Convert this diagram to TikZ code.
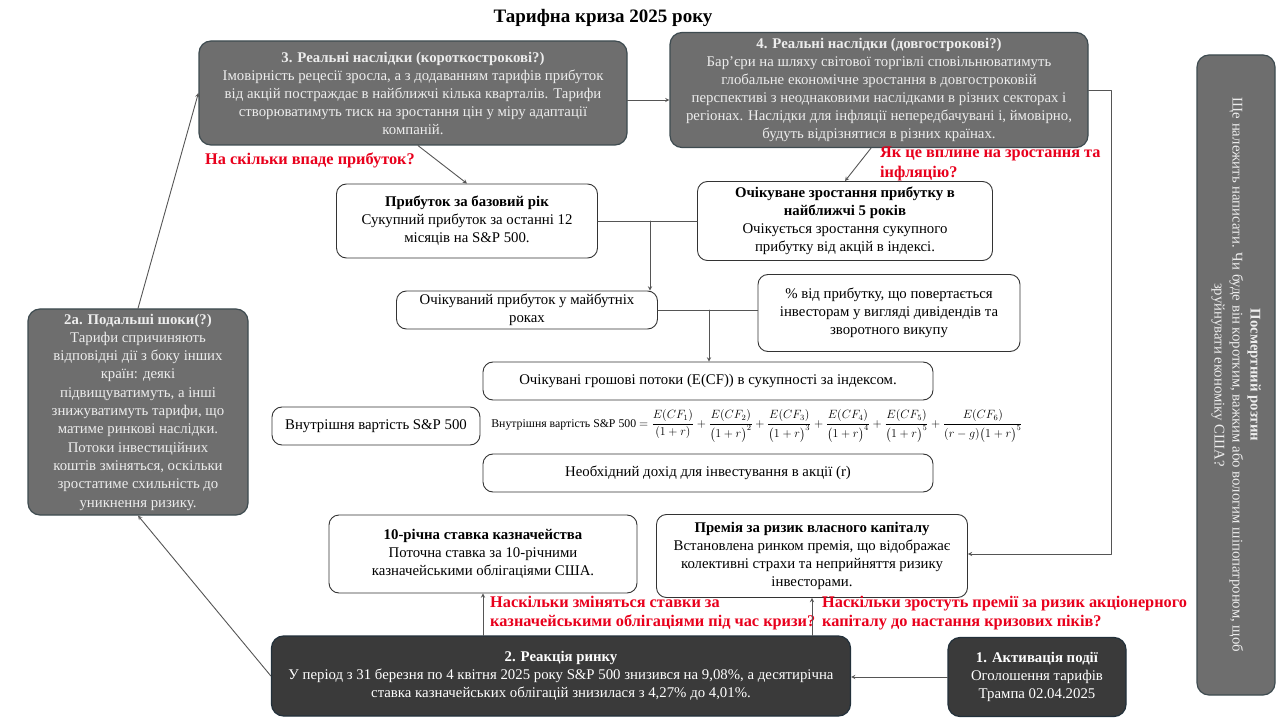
\documentclass[tikz,border=0pt]{standalone}
\usepackage{amsmath}
\usepackage{fontspec}
\setmainfont{Liberation Serif}
\definecolor{boxgrey}{HTML}{6E6E6E}
\definecolor{boxedge}{HTML}{3E4B50}
\definecolor{darkfill}{HTML}{3A3A3A}
\definecolor{darkedge}{HTML}{22303A}
\definecolor{qred}{HTML}{E8001C}
\definecolor{linegrey}{HTML}{555555}
\definecolor{greytext}{HTML}{EDEDED}
\begin{document}
\begin{tikzpicture}[x=1pt,y=-1pt,>=stealth, line join=round, line cap=round,
  font=\fontsize{14.8}{18}\selectfont,
  greybox/.style={draw=boxedge, line width=1.2pt, fill=boxgrey, text=greytext, rounded corners=12pt, align=center, inner sep=0pt},
  darkbox/.style={draw=darkedge, line width=1.2pt, fill=darkfill, text=white, rounded corners=12pt, align=center, inner sep=0pt},
  whitebox/.style={draw=black!80, line width=0.9pt, fill=white, rounded corners=10pt, align=center, inner sep=0pt},
  qlabel/.style={text=qred, font=\fontsize{16.3}{19.5}\selectfont\bfseries, align=left, inner sep=0pt},
  arr/.style={->, draw=linegrey, line width=0.9pt},
  link/.style={draw=linegrey, line width=0.9pt}]
\useasboundingbox (0,0) rectangle (1288,719);
\node[font=\fontsize{19}{21}\selectfont\bfseries] (title) at (603,18) {Тарифна криза 2025 року};
\node[greybox, minimum width=428pt, minimum height=104pt] (b3) at (413,93)
  {\textbf{3. Реальні наслідки (короткострокові?)}\\Імовірність рецесії зросла, а з додаванням тарифів прибуток\\від акцій постраждає в найближчі кілька кварталів. Тарифи\\створюватимуть тиск на зростання цін у міру адаптації\\компаній.};
\node[greybox, minimum width=418pt, minimum height=115pt] (b4) at (879,90)
  {\textbf{4. Реальні наслідки (довгострокові?)}\\Бар'єри на шляху світової торгівлі сповільнюватимуть\\глобальне економічне зростання в довгостроковій\\перспективі з неоднаковими наслідками в різних секторах і\\регіонах. Наслідки для інфляції непередбачувані і, ймовірно,\\будуть відрізнятися в різних країнах.};
\node[greybox, minimum width=220pt, minimum height=206pt, font=\fontsize{14.8}{18.3}\selectfont] (b2a) at (138,412)
  {\textbf{2а. Подальші шоки(?)}\\Тарифи спричиняють\\відповідні дії з боку інших\\країн: деякі\\підвищуватимуть, а інші\\знижуватимуть тарифи, що\\матиме ринкові наслідки.\\Потоки інвестиційних\\коштів зміняться, оскільки\\зростатиме схильність до\\уникнення ризику.};
\node[greybox, rotate=-90, minimum width=640pt, minimum height=78pt] (pm) at (1236,375)
  {\textbf{Посмертний розтин}\\Ще належить написати. Чи буде він коротким, важким або вологим шіпопатроном, щоб\\зруйнувати економіку США?};
\node[whitebox, minimum width=261pt, minimum height=74pt] (base) at (467,221)
  {\textbf{Прибуток за базовий рік}\\Сукупний прибуток за останні 12\\місяців на S\&P 500.};
\node[whitebox, minimum width=295pt, minimum height=79pt] (growth) at (845,221)
  {\textbf{Очікуване зростання прибутку в}\\\textbf{найближчі 5 років}\\Очікується зростання сукупного\\прибутку від акцій в індексі.};
\node[whitebox, minimum width=261pt, minimum height=38pt] (fut) at (527,310)
  {Очікуваний прибуток у майбутніх\\роках};
\node[whitebox, minimum width=262pt, minimum height=77pt] (payout) at (889,313)
  {\% від прибутку, що повертається\\інвесторам у вигляді дивідендів та\\зворотного викупу};
\node[whitebox, minimum width=450pt, minimum height=38pt] (ecf) at (708,381)
  {Очікувані грошові потоки (E(CF)) в сукупності за індексом.};
\node[whitebox, minimum width=208pt, minimum height=38pt] (iv) at (376,426)
  {Внутрішня вартість S\&P 500};
\node[font=\fontsize{11.8}{13}\selectfont, inner sep=0pt] (formula) at (757,426)
  {Внутрішня вартість S\&P 500 $=\dfrac{E(CF_1)}{(1+r)}+\dfrac{E(CF_2)}{\bigl(1+r\bigr)^2}+\dfrac{E(CF_3)}{\bigl(1+r\bigr)^3}+\dfrac{E(CF_4)}{\bigl(1+r\bigr)^4}+\dfrac{E(CF_5)}{\bigl(1+r\bigr)^5}+\dfrac{E(CF_6)}{(r-g)\bigl(1+r\bigr)^5}$};
\node[whitebox, minimum width=450pt, minimum height=38pt] (req) at (708,473)
  {Необхідний дохід для інвестування в акції (r)};
\node[whitebox, minimum width=308pt, minimum height=78pt] (tsy) at (483,554)
  {\textbf{10-річна ставка казначейства}\\Поточна ставка за 10-річними\\казначейськими облігаціями США.};
\node[whitebox, minimum width=311pt, minimum height=83pt] (erp) at (812,556)
  {\textbf{Премія за ризик власного капіталу}\\Встановлена ринком премія, що відображає\\колективні страхи та неприйняття ризику\\інвесторами.};
\node[darkbox, minimum width=579pt, minimum height=80pt] (b2) at (561,676)
  {\textbf{2. Реакція ринку}\\У період з 31 березня по 4 квітня 2025 року S\&P 500 знизився на 9,08\%, а десятирічна\\ставка казначейських облігацій знизилася з 4,27\% до 4,01\%.};
\node[darkbox, minimum width=178pt, minimum height=79pt] (b1) at (1037,677)
  {\textbf{1. Активація події}\\Оголошення тарифів\\Трампа 02.04.2025};
\node[qlabel, anchor=west] (q1) at (205,160) {На скільки впаде прибуток?};
\node[qlabel, anchor=north west] (q2) at (880,147) {Як це вплине на зростання та\\інфляцію?};
\node[qlabel, anchor=west] (q3) at (490,613) {Наскільки зміняться ставки за\\казначейськими облігаціями під час кризи?};
\node[qlabel, anchor=west] (q4) at (822,613) {Наскільки зростуть премії за ризик акціонерного\\капіталу до настання кризових піків?};
\path
  (650,221) coordinate (j1)
  (709,310) coordinate (j2)
  (1111,554) coordinate (rt)
  ;
\draw[arr] (b3.east |- 0,100) -- (b4.west |- 0,100);
\draw[arr] ([xshift=5pt]b3.south) -- (base.north);
\draw[arr] ([xshift=-8pt]b4.south) -- (growth.north);
\draw[arr] (b4.east) -| (rt) -- (rt -| erp.east);
\draw[link] (base.east) -- (base.east -| growth.west);
\draw[arr] (j1) -- (j1 |- fut.north);
\draw[link] (fut.east) -- (fut.east -| payout.west);
\draw[arr] (j2) -- (j2 |- ecf.north);
\draw[arr] (b1.west) -- (b1.west -| b2.east);
\draw[arr] (b2.north -| tsy.south) -- (tsy.south);
\draw[arr] (b2.north -| erp.south) -- (erp.south);
\draw[arr] (b2.west) -- (b2a.south);
\draw[arr] (b2a.north) -- (b3.west);
\end{tikzpicture}
\end{document}
